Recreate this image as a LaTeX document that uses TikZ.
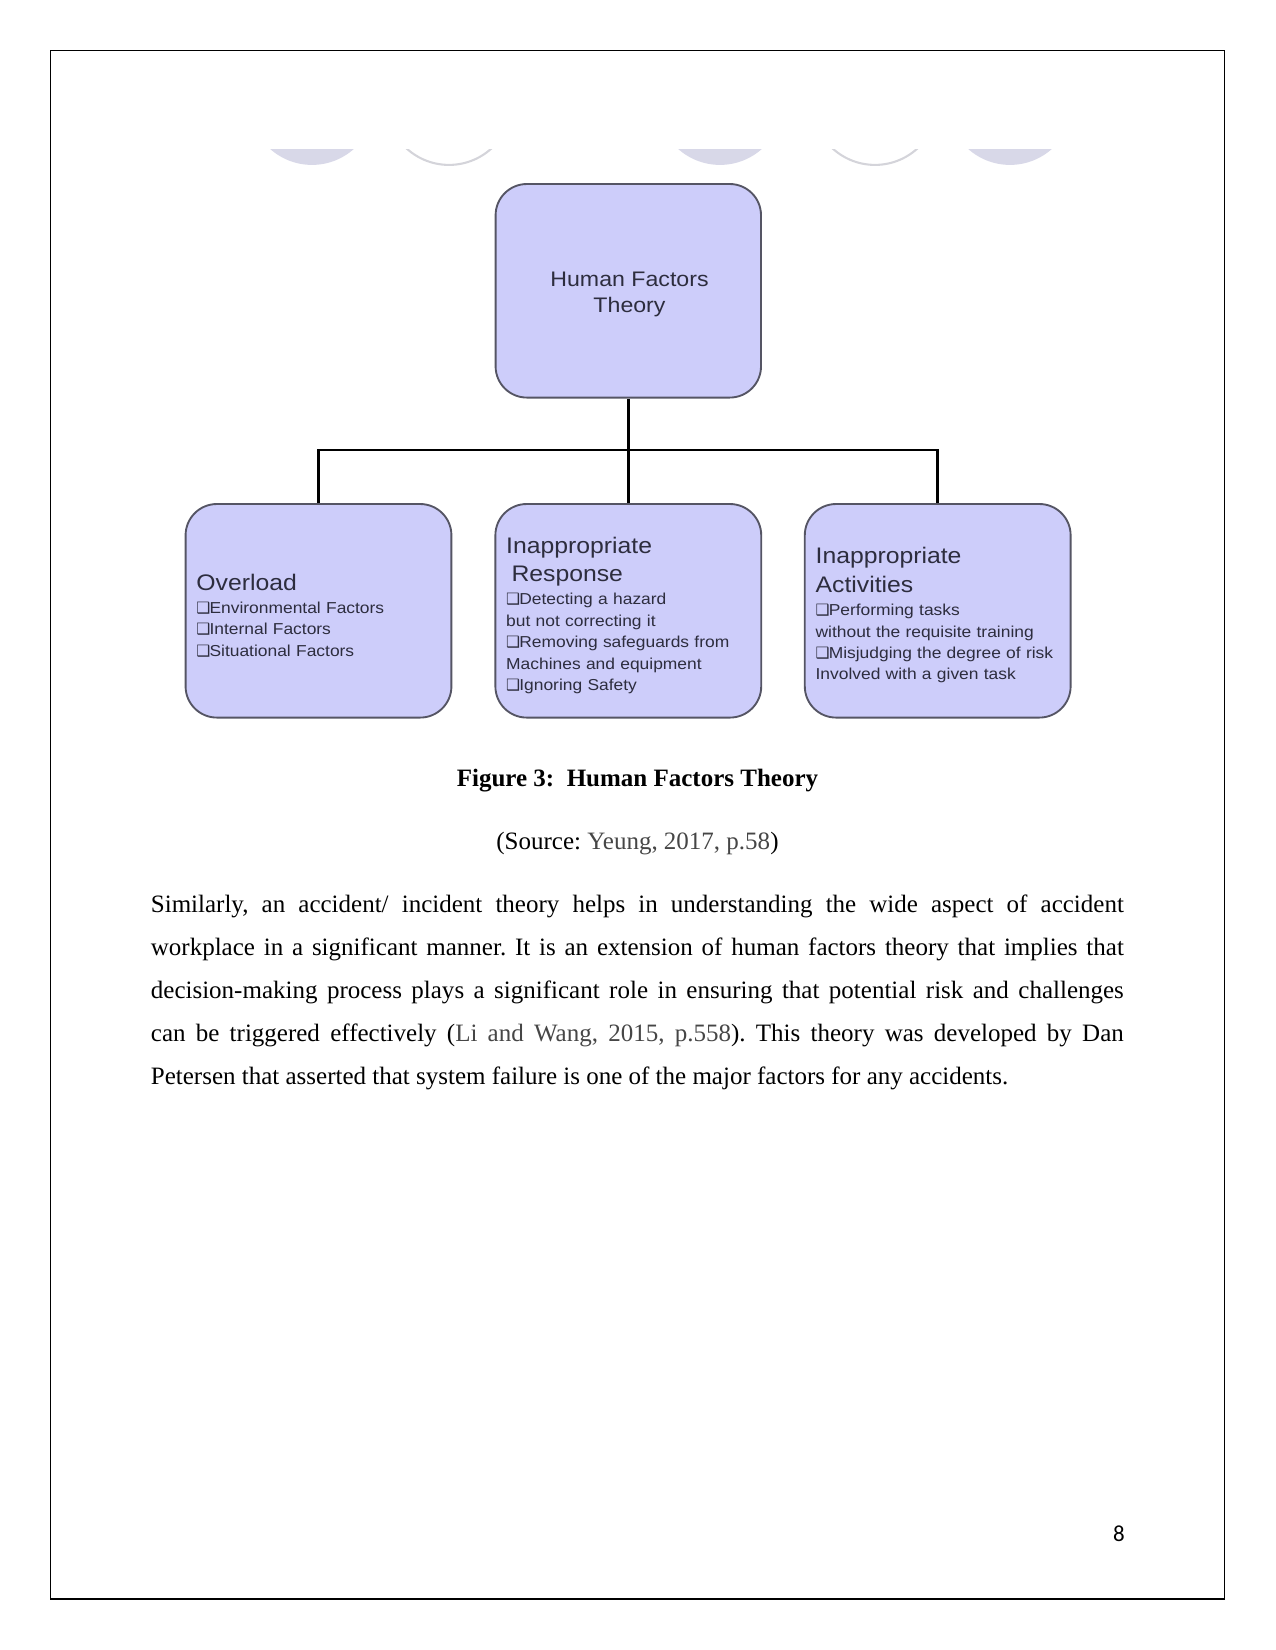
\documentclass[tikz,border=0pt]{standalone}
\usepackage{fontspec}
\setmainfont{Liberation Serif}
\newfontfamily\chartfont[FakeStretch=1.1]{Liberation Sans}
\newfontfamily\bulletfont{DejaVu Sans}
\newfontfamily\pagenumfont{Carlito}

\definecolor{boxfill}{RGB}{205,205,250}
\definecolor{boxline}{RGB}{85,85,100}
\definecolor{figtext}{RGB}{45,45,62}
\definecolor{ghostfill}{RGB}{216,216,232}
\definecolor{ghostline}{RGB}{212,212,218}
\definecolor{refgray}{RGB}{70,70,70}

\newcommand{\headsize}{\fontsize{10.8}{13.7}\selectfont}
\newcommand{\itemsize}{\fontsize{7.6}{10.3}\selectfont}
\newcommand{\headstrut}{\rule{0pt}{12.2pt}}
\newcommand{\sqbullet}{\makebox[6.3pt][l]{\bulletfont\fontsize{7.5}{7.5}\selectfont ❑}}
\newcommand{\srcref}[1]{\textcolor{refgray}{#1}}

\begin{document}
\begin{tikzpicture}[x=0.48pt, y=-0.48pt,
    factorbox/.style={draw=boxline, line width=0.9pt, fill=boxfill, rounded corners=15pt,
        minimum width=127.4pt, minimum height=102.5pt, text=figtext, font=\chartfont},
    listbox/.style={factorbox, text width=117.2pt, inner xsep=5.2pt, align=left, font=\chartfont\itemsize},
    titletext/.style={align=center, inner sep=0pt, text=figtext, font=\chartfont\fontsize{10.1}{12.5}\selectfont},
    link/.style={line width=1.3pt},
    ghostdisc/.style={fill=ghostfill},
    ghostring/.style={draw=ghostline, line width=1pt},
    pagetext/.style={anchor=base, inner sep=0pt}
]
\useasboundingbox (0,0) rectangle (1275,1650);
\draw[line width=0.55pt] (50.5,50.5) rectangle (1224.5,1599);

% cut-off shapes above the chart
\begin{scope}
\clip (200,150) rectangle (1100,180);
\foreach \cx in {312,720,1010} \fill[ghostdisc] (\cx,102) circle[radius=30.2pt];
\foreach \cx in {449,875} \draw[ghostring] (\cx,102) circle[radius=30.2pt];
\end{scope}

\node[factorbox] (hft) at (628.3,290.8) {};
\node[titletext] (hfttitle) at (629.5,294) {Human Factors\\Theory};
\node[listbox] (overload) at (318.5,610.8) {\headsize\headstrut Overload\\[0.9pt]\itemsize
    \sqbullet Environmental Factors\\\sqbullet Internal Factors\\\sqbullet Situational Factors};
\node[listbox] (response) at (628.3,610.8) {\headsize\headstrut Inappropriate\\\ Response\\[0.9pt]\itemsize
    \sqbullet Detecting a hazard\\but not correcting it\\\sqbullet Removing safeguards from\\Machines and equipment\\\sqbullet Ignoring Safety};
\node[listbox] (activities) at (937.7,610.8) {\headsize\headstrut Inappropriate\\Activities\\[0.9pt]\itemsize
    \sqbullet Performing tasks\\without the requisite training\\\sqbullet Misjudging the degree of risk\\Involved with a given task};

\coordinate (bus) at (628.3,450);
\draw[link] (hft.south) -- (bus);
\foreach \b in {overload,response,activities}
    \draw[link] (\b.north) |- (bus);

\node[pagetext, font=\fontsize{12}{14.4}\selectfont\bfseries] (caption) at (637.5,786) {Figure 3:\ \ Human Factors Theory};
\node[pagetext, font=\fontsize{12}{14.4}\selectfont\frenchspacing] (source) at (637.5,849) {(Source: \srcref{Yeung, 2017, p.58})};

\node[anchor=base west, inner sep=0pt] (para) at (150.5,912) {\parbox[t]{467pt}{\fontsize{12}{20.7}\selectfont\sloppy\frenchspacing
Similarly, an accident/ incident theory helps in understanding the wide aspect of accident\linebreak
workplace in a significant manner. It is an extension of human factors theory that implies that\linebreak
decision-making process plays a significant role in ensuring that potential risk and challenges\linebreak
can be triggered effectively (\srcref{Li and Wang, 2015, p.558}). This theory was developed by Dan\linebreak
Petersen that asserted that system failure is one of the major factors for any accidents.}};

\node[pagetext, font=\pagenumfont\fontsize{11}{13}\selectfont] (pagenum) at (1119,1541) {8};
\end{tikzpicture}
\end{document}
